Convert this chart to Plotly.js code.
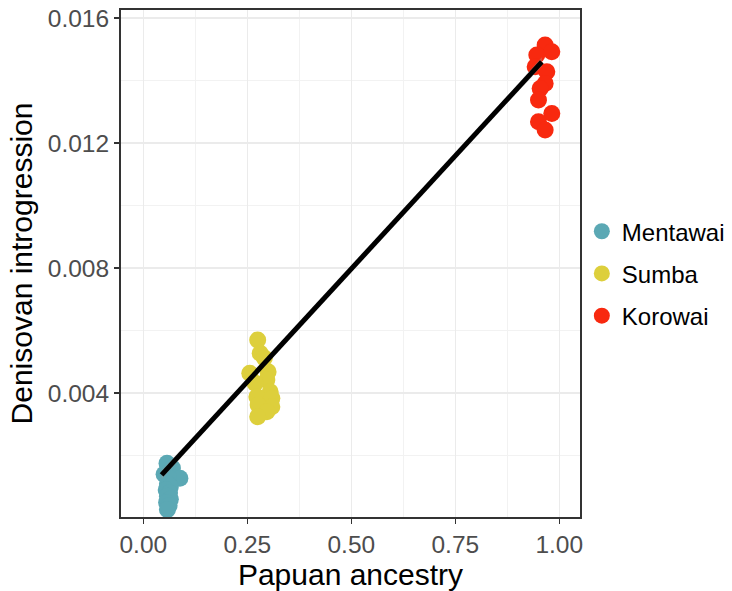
<!DOCTYPE html>
<html>
<head>
<meta charset="utf-8">
<script src="https://cdn.plot.ly/plotly-3.0.1.min.js"></script>
<style>html,body{margin:0;padding:0;background:#fff;}#chart{width:732px;height:591px;}</style>
</head>
<body>
<div id="chart"></div>
<script>
const groups = ["Mentawai", "Sumba", "Korowai"];
const groupColors = ["#5BA8B4", "#DDCF3C", "#F8290F"];

const mentawaiX = [0.057, 0.070, 0.088, 0.050, 0.060, 0.058, 0.065, 0.055, 0.063, 0.058, 0.065, 0.056, 0.062, 0.058];
const mentawaiY = [0.00175, 0.00160, 0.00127, 0.00140, 0.00130, 0.00110, 0.00100, 0.00090, 0.00080, 0.00070, 0.00060, 0.00050, 0.00040, 0.00027];

const sumbaX = [0.275, 0.281, 0.291, 0.256, 0.300, 0.297, 0.269, 0.305, 0.273, 0.309, 0.309, 0.276, 0.297, 0.275];
const sumbaY = [0.00570, 0.00527, 0.00512, 0.00463, 0.00468, 0.00442, 0.00431, 0.00404, 0.00388, 0.00383, 0.00356, 0.00362, 0.00340, 0.00324];

const korowaiX = [0.966, 0.982, 0.946, 0.942, 0.970, 0.966, 0.954, 0.950, 0.982, 0.950, 0.966];
const korowaiY = [0.01514, 0.01492, 0.01482, 0.01444, 0.01428, 0.01391, 0.01375, 0.01338, 0.01295, 0.01268, 0.01242];

const fitX = [0.044, 0.958];
const fitY = [0.00138, 0.01460];
const bandX = [0.044, 0.25, 0.5, 0.75, 0.958];
const bandUpper = [0.00153, 0.004421, 0.008018, 0.011656, 0.01475];
const bandLower = [0.00123, 0.004301, 0.007938, 0.011536, 0.01445];

const xTickVals = [0, 0.25, 0.5, 0.75, 1.0];
const xTickText = ["0.00", "0.25", "0.50", "0.75", "1.00"];
const yTickVals = [0.004, 0.008, 0.012, 0.016];
const yTickText = ["0.004", "0.008", "0.012", "0.016"];

const xs = [mentawaiX, sumbaX, korowaiX];
const ys = [mentawaiY, sumbaY, korowaiY];

const traces = groups.map((g, i) => ({
  type: "scatter", mode: "markers", name: g, legendgroup: g,
  x: xs[i], y: ys[i],
  marker: {color: groupColors[i], size: 17, line: {width: 0}}
}));

traces.push({
  type: "scatter", mode: "lines", x: bandX, y: bandLower,
  line: {width: 0, color: "rgba(0,0,0,0)"}, showlegend: false, hoverinfo: "skip"
});
traces.push({
  type: "scatter", mode: "lines", x: bandX, y: bandUpper, fill: "tonexty",
  fillcolor: "rgba(153,153,153,0.4)",
  line: {width: 0, color: "rgba(0,0,0,0)"}, showlegend: false, hoverinfo: "skip"
});
traces.push({
  type: "scatter", mode: "lines", x: fitX, y: fitY,
  line: {color: "#000000", width: 5}, showlegend: false
});

const font = "Liberation Sans, Arial, Helvetica, sans-serif";

const layout = {
  width: 732, height: 591,
  paper_bgcolor: "#ffffff", plot_bgcolor: "#ffffff",
  margin: {l: 121, r: 152, t: 10, b: 74, autoexpand: false},
  font: {family: font, color: "#4D4D4D"},
  showlegend: true,
  legend: {
    x: 1.004, xanchor: "left", y: 0.48, yanchor: "middle",
    font: {family: font, size: 24, color: "#000000"},
    tracegroupgap: 8, itemsizing: "trace", bgcolor: "rgba(0,0,0,0)"
  },
  xaxis: {
    range: [-0.0536, 1.0498],
    tickvals: xTickVals, ticktext: xTickText,
    showgrid: true, gridcolor: "#EBEBEB", gridwidth: 1.5,
    minor: {dtick: 0.125, tick0: 0.125, showgrid: true, gridcolor: "#F2F2F2", gridwidth: 1, ticks: ""},
    zeroline: false,
    showline: true, mirror: true, linecolor: "#333333", linewidth: 2,
    ticks: "outside", ticklen: 5, tickwidth: 1.5, tickcolor: "#333333",
    tickfont: {family: font, size: 24.5, color: "#4D4D4D"},
    title: {text: "Papuan ancestry", font: {family: font, size: 30, color: "#000000"}, standoff: 3}
  },
  yaxis: {
    range: [0.000032, 0.01626],
    tickvals: yTickVals, ticktext: yTickText,
    showgrid: true, gridcolor: "#EBEBEB", gridwidth: 1.5,
    minor: {dtick: 0.002, tick0: 0.002, showgrid: true, gridcolor: "#F2F2F2", gridwidth: 1, ticks: ""},
    zeroline: false,
    showline: true, mirror: true, linecolor: "#333333", linewidth: 2,
    ticks: "outside", ticklen: 5, tickwidth: 1.5, tickcolor: "#333333",
    tickfont: {family: font, size: 24.5, color: "#4D4D4D"},
    title: {text: "Denisovan introgression", font: {family: font, size: 30, color: "#000000"}, standoff: 6}
  }
};

Plotly.newPlot("chart", traces, layout, {displayModeBar: false, staticPlot: true});
</script>
</body>
</html>
